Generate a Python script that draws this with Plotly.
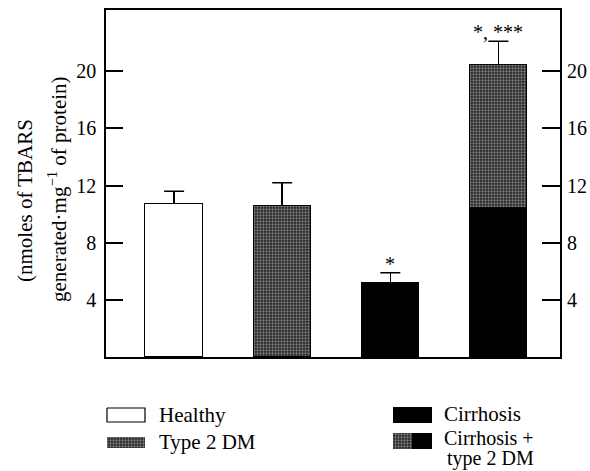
import plotly.graph_objects as go

# ---------------- data ----------------
groups = ["Healthy", "Type 2 DM", "Cirrhosis", "Cirrhosis + type 2 DM"]
means = [10.7, 10.55, 5.2, 20.45]
sem = [0.9, 1.65, 0.7, 1.65]
combo_cirrhosis_part = 10.45          # black (cirrhosis) portion of the combined bar
significance = ["", "", "*", "*, ***"]
y_ticks = [4, 8, 12, 16, 20]

# ---------------- styling ----------------
FONT = "Liberation Serif, Times New Roman, Times, serif"
FS = 20
FS_TXT = 21
W, H = 590, 471
ML, MR, MT, MB = 106, 30, 10, 0
PW, PH = W - ML - MR, H - MT - MB
MAIN_BOTTOM_PX = 357
y_dom0 = (H - MAIN_BOTTOM_PX) / PH

pattern = dict(shape=".", size=3, solidity=0.45, fgcolor="#dddddd", bgcolor="#222222")
line_blk = dict(color="black", width=1.3)
bw = 0.53

fig = go.Figure()
xs = list(range(len(groups)))
tops = [m + s for m, s in zip(means, sem)]

stem = dict(type="data", symmetric=False, arrayminus=[0], color="black", thickness=1.5, width=0)

# Healthy
fig.add_trace(go.Bar(x=[xs[0]], y=[means[0]], width=bw, marker=dict(color="white", line=line_blk),
                     error_y=dict(array=[sem[0]], **stem)))
# Type 2 DM
fig.add_trace(go.Bar(x=[xs[1]], y=[means[1]], width=bw,
                     marker=dict(color="#222222", pattern=pattern, line=line_blk),
                     error_y=dict(array=[sem[1]], **stem)))
# Cirrhosis
fig.add_trace(go.Bar(x=[xs[2]], y=[means[2]], width=bw, marker=dict(color="black", line=line_blk),
                     error_y=dict(array=[sem[2]], **stem)))
# Cirrhosis + type 2 DM (stacked)
fig.add_trace(go.Bar(x=[xs[3]], y=[combo_cirrhosis_part], width=bw,
                     marker=dict(color="black", line=line_blk)))
fig.add_trace(go.Bar(x=[xs[3]], y=[means[3] - combo_cirrhosis_part], width=bw,
                     marker=dict(color="#222222", pattern=pattern, line=line_blk),
                     error_y=dict(array=[sem[3]], **stem)))

# error-bar caps (zero-length error bars at the top of each SEM)
fig.add_trace(go.Scatter(x=xs, y=tops, mode="markers", marker=dict(size=1, opacity=0),
                         error_y=dict(type="data", array=[0] * len(xs), color="black",
                                      thickness=1.5, width=10), hoverinfo="skip"))

# invisible trace for right axis
fig.add_trace(go.Scatter(x=[None], y=[None], yaxis="y2", hoverinfo="skip"))

# significance marks
for i, s in enumerate(significance):
    if s:
        fig.add_annotation(x=xs[i], y=tops[i], text=s, showarrow=False, xref="x", yref="y",
                           yanchor="bottom", yshift=-4, font=dict(family=FONT, size=FS, color="black"))

# ---------------- legend (custom, on an overlay axis in pixel units) ----------------
def rect(x0, x1, y0, y1):
    return [x0, x1, x1, x0, x0], [y0, y0, y1, y1, y0]

legend_items = [
    (107, 145, 408, 422, "white"),
    (107, 145, 437, 448, "pattern"),
    (393, 432, 407, 423, "black"),
    (393, 413, 433, 449, "pattern"),
    (412, 432, 433, 449, "black"),
]
for x0, x1, y0, y1, kind in legend_items:
    rx, ry = rect(x0, x1, y0, y1)
    if kind == "white":
        tr = go.Scatter(x=rx, y=ry, fill="toself", fillcolor="white", mode="lines",
                        line=dict(color="black", width=1.2))
    elif kind == "black":
        tr = go.Scatter(x=rx, y=ry, fill="toself", fillcolor="black", mode="lines",
                        line=dict(color="black", width=0))
    else:
        tr = go.Scatter(x=rx, y=ry, fill="toself", fillcolor="#222222", fillpattern=pattern,
                        mode="lines", line=dict(color="#222222", width=0))
    tr.update(xaxis="x3", yaxis="y3", hoverinfo="skip")
    fig.add_trace(tr)

legend_texts = [
    (158, 415, groups[0], FS_TXT),
    (158, 442, groups[1], FS_TXT),
    (443, 414, groups[2], FS_TXT),
    (443, 438, "Cirrhosis +", FS),
    (446, 458, "type 2 DM", FS),
]
for x, y, t, fs in legend_texts:
    fig.add_annotation(x=x, y=y, text=t, xref="x3", yref="y3", showarrow=False, borderpad=0,
                       xanchor="left", yanchor="middle", font=dict(family=FONT, size=fs, color="black"))

# ---------------- y-axis title (two rotated lines) ----------------
def px2paper(px, py):
    return (px - ML) / PW, (H - MB - py) / PH

for (cx, cy), t in [((25, 201), "(nmoles of TBARS"),
                    ((57, 189), "generated·mg<sup>−1</sup> of protein)")]:
    xp, yp = px2paper(cx, cy)
    fig.add_annotation(x=xp, y=yp, xref="paper", yref="paper", text=t, showarrow=False,
                       textangle=-90, xanchor="center", yanchor="middle",
                       font=dict(family=FONT, size=FS_TXT, color="black"))

ymax = (MAIN_BOTTOM_PX - MT) / ((MAIN_BOTTOM_PX - 71.3) / 20)

fig.update_layout(
    width=W, height=H, margin=dict(l=ML, r=MR, t=MT, b=MB),
    paper_bgcolor="white", plot_bgcolor="rgba(0,0,0,0)",
    barmode="stack", bargap=0, showlegend=False,
    font=dict(family=FONT, size=FS, color="black"),
    xaxis=dict(range=[-0.63, 3.57], showticklabels=False, ticks="", showgrid=False, zeroline=False,
               showline=True, mirror=True, linecolor="black", linewidth=1.5, fixedrange=True),
    yaxis=dict(domain=[y_dom0, 1], range=[0, ymax], tickvals=y_ticks, ticks="inside", ticklen=17,
               tickwidth=1.5, tickcolor="black", showgrid=False, zeroline=False,
               showline=True, mirror=True, linecolor="black", linewidth=1.5, ticklabelstandoff=4,
               tickfont=dict(family=FONT, size=FS, color="black"), fixedrange=True),
    yaxis2=dict(overlaying="y", side="right", anchor="x", range=[0, ymax], tickvals=y_ticks,
                ticks="inside", ticklen=18, tickwidth=1.5, tickcolor="black", showgrid=False,
                zeroline=False, showline=False, ticklabelstandoff=6,
                tickfont=dict(family=FONT, size=FS, color="black"), fixedrange=True),
    xaxis3=dict(domain=[0, 1], range=[ML, W - MR], visible=False, fixedrange=True, anchor="y3"),
    yaxis3=dict(domain=[0, 1], range=[H - MB, MT], visible=False, fixedrange=True, anchor="x3"),
)

fig.write_html("out.html")
